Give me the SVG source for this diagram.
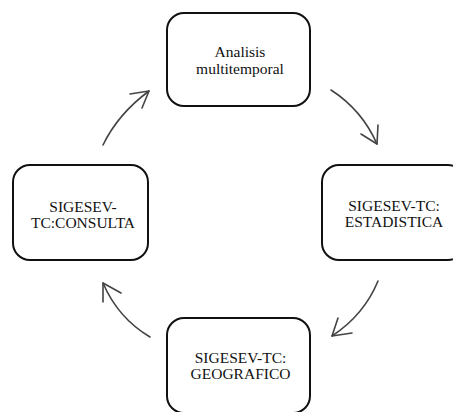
<svg xmlns="http://www.w3.org/2000/svg" width="453" height="412" viewBox="0 0 453 412">
<style>
.box{fill:#fff;stroke:#111;stroke-width:2}
.lbl{font-family:"Liberation Serif","Times New Roman",serif;font-size:15.5px;fill:#111;text-anchor:middle}
.arr{fill:none;stroke:#444;stroke-width:1.6;stroke-linecap:round;stroke-linejoin:round}
</style>
<rect width="453" height="412" fill="#fff"/>
<g id="connectors">
<path class="arr" d="M103,145 Q118,114 149,91"/>
<path class="arr" d="M130,94 L149,91 L142,108"/>
<path class="arr" d="M331,90 Q362,110 377,144"/>
<path class="arr" d="M378,125 L377,144 L361,134"/>
<path class="arr" d="M378,281 Q364,315 332,336"/>
<path class="arr" d="M338,318 L332,336 L352,333"/>
<path class="arr" d="M150,337 Q118,318 103,283"/>
<path class="arr" d="M103,302 L103,283 L121,293"/>
</g>
<g id="node-analisis">
<rect class="box" x="167" y="13" width="143" height="93" rx="17"/>
<text class="lbl" x="240" y="57">Analisis</text>
<text class="lbl" x="240" y="74">multitemporal</text>
</g>
<g id="node-estadistica">
<rect class="box" x="322" y="165" width="143" height="95" rx="17"/>
<text class="lbl" x="394" y="211">SIGESEV-TC:</text>
<text class="lbl" x="394" y="227">ESTADISTICA</text>
</g>
<g id="node-geografico">
<rect class="box" x="167" y="318" width="143" height="95" rx="17"/>
<text class="lbl" x="240.5" y="363">SIGESEV-TC:</text>
<text class="lbl" x="240.5" y="379">GEOGRAFICO</text>
</g>
<g id="node-consulta">
<rect class="box" x="13" y="165" width="135" height="95" rx="17"/>
<text class="lbl" x="83" y="212">SIGESEV-</text>
<text class="lbl" x="83" y="228">TC:CONSULTA</text>
</g>
</svg>
